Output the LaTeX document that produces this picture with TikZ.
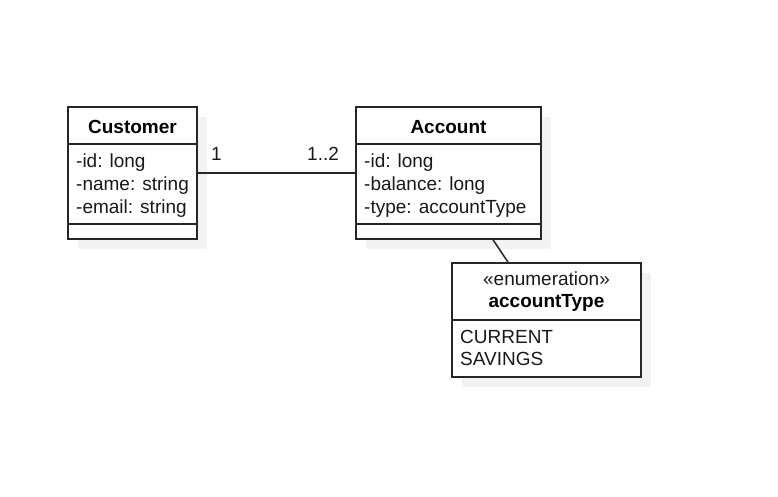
\documentclass[tikz,border=0pt]{standalone}
\usepackage{fontspec}
\setmainfont{Liberation Sans}
\begin{document}
\begin{tikzpicture}[x=1pt,y=-1pt,
    umlbox/.style={draw=black!85, line width=1.5pt, fill=white, inner sep=0pt},
    boxshade/.style={fill=black!5},
    sep/.style={draw=black!85, line width=1.5pt},
    attr/.style={anchor=base west, inner sep=0pt, text=black!90, font=\fontsize{19}{23}\selectfont},
    head/.style={anchor=base, inner sep=0pt, font=\fontsize{19}{23}\selectfont\bfseries}]
    \useasboundingbox (0,0) rectangle (778,496);
    % shadows
    \fill[boxshade] (78,117) rectangle (207,249);
    \fill[boxshade] (366,117) rectangle (551,249);
    \fill[boxshade] (462,273) rectangle (651,387);

    % Customer
    \node[umlbox, minimum width=129pt, minimum height=132pt] (customer) at (132.5,173) {};
    \draw[sep] (customer.west |- 0,144) -- (customer.east |- 0,144);
    \draw[sep] (customer.west |- 0,224) -- (customer.east |- 0,224);
    \node[head] (customerName) at (132.5,133) {Customer};
    \node[attr] (customerId) at (76,167) {-id: long};
    \node[attr] (customerNm) at (76,190) {-name: string};
    \node[attr] (customerMail) at (76,213) {-email: string};

    % Account
    \node[umlbox, minimum width=185pt, minimum height=132pt] (account) at (448.5,173) {};
    \draw[sep] (account.west |- 0,144) -- (account.east |- 0,144);
    \draw[sep] (account.west |- 0,224) -- (account.east |- 0,224);
    \node[head] (accountName) at (448.5,133) {Account};
    \node[attr] (accountId) at (364,167) {-id: long};
    \node[attr] (accountBal) at (364,190) {-balance: long};
    \node[attr] (accountTy) at (364,213) {-type: accountType};

    % accountType enumeration
    \node[umlbox, minimum width=189pt, minimum height=114pt] (accttype) at (546.5,320) {};
    \draw[sep] (accttype.west |- 0,320) -- (accttype.east |- 0,320);
    \node[attr, anchor=base] (accttypeSt) at (546.5,285) {«enumeration»};
    \node[head] (accttypeName) at (546.5,307) {accountType};
    \node[attr] (accttypeCur) at (460,343) {CURRENT};
    \node[attr] (accttypeSav) at (460,365) {SAVINGS};

    % associations
    \draw[sep] (customer) -- (account);
    \draw[sep] (account) -- (accttype);
    \node[attr] (multCust) at (211,160) {1};
    \node[attr] (multAcct) at (307,160) {1..2};
\end{tikzpicture}
\end{document}
